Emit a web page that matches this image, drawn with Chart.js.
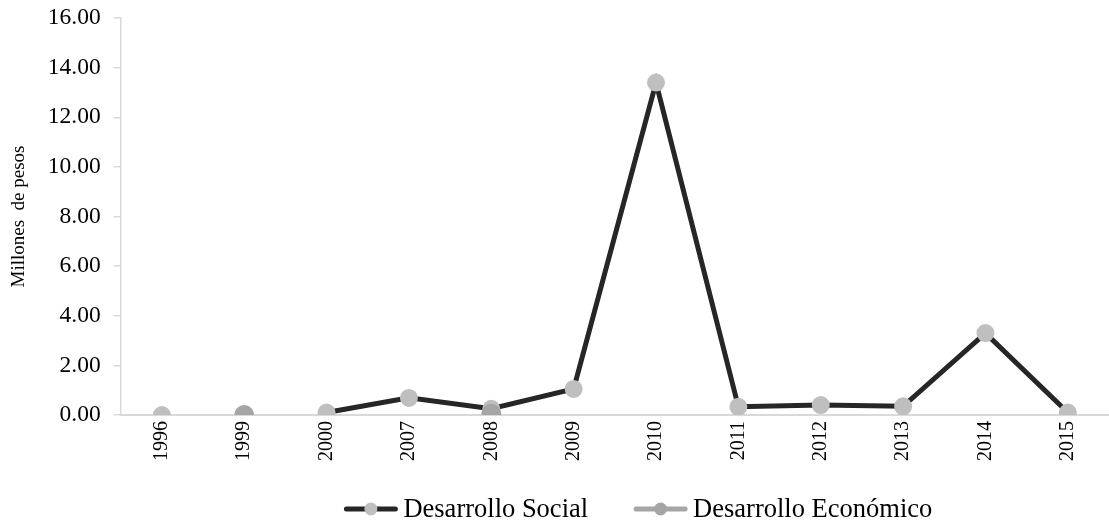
<!DOCTYPE html>
<html>
<head>
<meta charset="utf-8">
<script src="https://cdn.jsdelivr.net/npm/chart.js@4"></script>
<style>
  html, body { margin: 0; padding: 0; background: #fff; }
  #wrap { width: 1109px; height: 525px; }
</style>
</head>
<body>
<div id="wrap"><canvas id="myChart" width="1109" height="525"></canvas></div>
<script>
const years = ['1996', '1999', '2000', '2007', '2008', '2009', '2010', '2011', '2012', '2013', '2014', '2015'];
const social = [0, null, 0.1, 0.69, 0.25, 1.05, 13.4, 0.33, 0.4, 0.35, 3.3, 0.1];
const economico = [null, 0, null, null, 0.05, null, null, null, null, null, null, null];
const yTicks = [0, 2, 4, 6, 8, 10, 12, 14, 16];

const serif = "'Liberation Serif', 'Times New Roman', serif";

// leyenda dibujada a mano: linea con punto y texto
const legendaPlugin = {
  id: 'legenda',
  afterDraw: function(chart) {
    const ctx = chart.ctx;
    const area = chart.chartArea;
    const iconW = 55, gapTxt = 5, gapItem = 45;
    ctx.save();
    ctx.font = '26.5px ' + serif;
    const items = chart.data.datasets.map(function(ds) {
      return { ds: ds, w: ctx.measureText(ds.label).width };
    });
    let total = 0;
    items.forEach(function(it, i) {
      total += iconW + gapTxt + it.w + (i > 0 ? gapItem : 0);
    });
    let x = (area.left + area.right) / 2 + 23 - total / 2;
    const y = 509;
    items.forEach(function(it) {
      ctx.strokeStyle = it.ds.borderColor;
      ctx.lineWidth = 5;
      ctx.lineCap = 'round';
      ctx.beginPath();
      ctx.moveTo(x + 3, y);
      ctx.lineTo(x + iconW - 3, y);
      ctx.stroke();
      ctx.fillStyle = it.ds.pointBackgroundColor;
      ctx.beginPath();
      ctx.arc(x + iconW / 2, y, 6.5, 0, Math.PI * 2);
      ctx.fill();
      ctx.fillStyle = '#000';
      ctx.textBaseline = 'middle';
      ctx.textAlign = 'left';
      ctx.fillText(it.ds.label, x + iconW + gapTxt, y + 1);
      x += iconW + gapTxt + it.w + gapItem;
    });
    ctx.restore();
  }
};

const data = {
  labels: years,
  datasets: [{
    label: 'Desarrollo Social',
    data: social,
    borderColor: '#262626',
    backgroundColor: '#bfbfbf',
    pointBackgroundColor: '#bfbfbf',
    pointBorderColor: '#bfbfbf',
    pointRadius: 6.5,
    borderWidth: 5,
    spanGaps: false,
    order: 1
  }, {
    label: 'Desarrollo Económico',
    data: economico,
    borderColor: '#a6a6a6',
    backgroundColor: '#a5a5a5',
    pointBackgroundColor: '#a5a5a5',
    pointBorderColor: '#a5a5a5',
    pointRadius: 7.5,
    borderWidth: 5,
    spanGaps: false,
    order: 0
  }]
};

const config = {
  type: 'line',
  data: data,
  plugins: [legendaPlugin],
  options: {
    responsive: false,
    animation: false,
    layout: { autoPadding: false, padding: { left: 6, right: 0, top: 18, bottom: 58 } },
    plugins: {
      tooltip: { enabled: false },
      legend: { display: false }
    },
    scales: {
      x: {
        offset: true,
        afterFit: function(s) { s.paddingRight = 0; s.paddingLeft = 0; },
        grid: { display: false, drawTicks: false },
        border: { color: '#d9d9d9', width: 2 },
        ticks: {
          color: '#000',
          font: { family: serif, size: 20 },
          minRotation: 90,
          maxRotation: 90,
          padding: 6
        }
      },
      y: {
        min: 0,
        max: 16,
        afterFit: function(s) { s.paddingTop = 0; s.paddingBottom = 0; },
        afterBuildTicks: function(axis) {
          axis.ticks = yTicks.map(function(v) { return { value: v }; });
        },
        grid: { drawOnChartArea: false, tickLength: 7, color: '#d9d9d9', lineWidth: 1.5 },
        border: { color: '#d9d9d9', width: 1.5 },
        title: {
          display: true,
          text: 'Millones  de pesos',
          color: '#000',
          font: { family: serif, size: 19 },
          padding: { top: 2, bottom: 4 }
        },
        ticks: {
          color: '#000',
          font: { family: serif, size: 23.5 },
          padding: 13,
          callback: function(v) { return Number(v).toFixed(2); }
        }
      }
    }
  }
};

var myChart = new Chart(document.getElementById('myChart'), config);
</script>
</body>
</html>
